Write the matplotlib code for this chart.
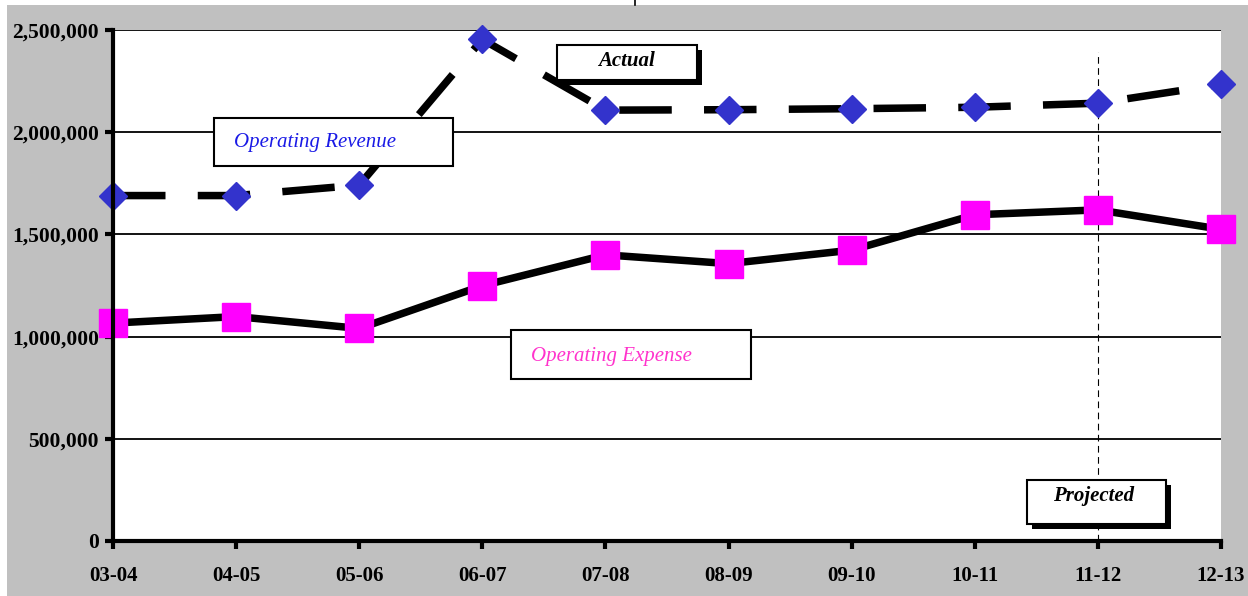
import matplotlib
matplotlib.use("Agg")
import matplotlib.pyplot as plt
from matplotlib.patches import Rectangle
from matplotlib.lines import Line2D
from matplotlib.ticker import FuncFormatter

# Fiscal years and series values
years = ["03-04", "04-05", "05-06", "06-07", "07-08", "08-09", "09-10", "10-11", "11-12", "12-13"]
revenue = [1690000, 1690000, 1741000, 2454000, 2108000, 2110000, 2115000, 2122000, 2142000, 2234000]
expense = [1066000, 1098000, 1040000, 1249000, 1400000, 1357000, 1423000, 1596000, 1620000, 1525000]
y_ticks = [0, 500000, 1000000, 1500000, 2000000, 2500000]
projected_from = "11-12"

W, H = 1248, 596
DPI = 100
fig = plt.figure(figsize=(W / DPI, H / DPI), dpi=DPI, facecolor="white")

# grey chart-area backdrop
fig.add_artist(Rectangle((7 / W, 0), 1 - 7 / W, (H - 5) / H, transform=fig.transFigure,
                         facecolor="#C0C0C0", edgecolor="none", zorder=0))
fig.add_artist(Line2D([635 / W, 635 / W], [(H - 5) / H, 1.0], transform=fig.transFigure,
                      color="black", lw=1.2, zorder=1))

def px_box(x0, y0, x1, y1):
    return [x0 / W, (H - y1) / H, (x1 - x0) / W, (y1 - y0) / H]

ax = fig.add_axes(px_box(113, 30, 1221, 541))
ax.set_facecolor("white")
ax.set_zorder(2)

x = list(range(len(years)))
ax.set_xlim(0, len(years) - 1)
ax.set_ylim(0, 2500000)

for v in y_ticks[1:]:
    ax.axhline(v, color="black", lw=1.3, zorder=1)

# projection divider
px = years.index(projected_from)
ax.axvline(px, ymin=0, ymax=(541 - 52) / (541 - 30), color="black", lw=0.8,
           dashes=(6, 4), zorder=2)

ax.plot(x, revenue, color="black", lw=5.4, dashes=(7.0, 4.3), dash_capstyle="butt",
        zorder=3, clip_on=False)
ax.plot(x, revenue, ls="none", marker="D", markersize=14, color="#3333CC",
        markeredgecolor="#3333CC", zorder=5, clip_on=False)

ax.plot(x, expense, color="black", lw=5.4, solid_capstyle="butt", zorder=3, clip_on=False)
ax.plot(x, expense, ls="none", marker="s", markersize=20, color="#FF00FF",
        markeredgecolor="#FF00FF", zorder=5, clip_on=False)

for side in ("top", "right"):
    ax.spines[side].set_visible(False)
for side in ("left", "bottom"):
    ax.spines[side].set_linewidth(3.0)
    ax.spines[side].set_color("black")
    ax.spines[side].set_zorder(6)

ax.set_xticks(x)
ax.set_xticklabels(years)
ax.set_yticks(y_ticks)
ax.yaxis.set_major_formatter(FuncFormatter(lambda v, p: f"{int(v):,}"))
ax.tick_params(axis="both", direction="out", length=6, width=3, color="black")
ax.tick_params(axis="y", pad=4)
ax.tick_params(axis="x", pad=12)
for lab in ax.get_xticklabels():
    lab.set_fontfamily("Liberation Serif")
    lab.set_fontweight("bold")
    lab.set_fontsize(15)
for lab in ax.get_yticklabels():
    lab.set_fontfamily("Liberation Serif")
    lab.set_fontweight("bold")
    lab.set_fontsize(15.5)

# annotation boxes drawn in figure pixel space
ov = fig.add_axes([0, 0, 1, 1])
ov.set_xlim(0, W)
ov.set_ylim(H, 0)
ov.axis("off")
ov.set_zorder(10)
ov.patch.set_visible(False)

def label_box(x0, y0, x1, y1, shadow=False):
    if shadow:
        ov.add_patch(Rectangle((x0 + 5, y0 + 5), x1 - x0, y1 - y0,
                               facecolor="black", edgecolor="none"))
    ov.add_patch(Rectangle((x0, y0), x1 - x0, y1 - y0, facecolor="white",
                           edgecolor="black", lw=1.5))

label_box(557, 45, 697, 80, shadow=True)
ov.text(626, 61, "Actual", ha="center", va="center", family="Liberation Serif",
        style="italic", weight="bold", fontsize=15, color="black")

label_box(1027, 480, 1166, 524, shadow=True)
ov.text(1094, 496, "Projected", ha="center", va="center", family="Liberation Serif",
        style="italic", weight="bold", fontsize=15, color="black")

label_box(214, 118, 453, 166)
ov.text(234, 143, "Operating Revenue", ha="left", va="center", family="Liberation Serif",
        style="italic", fontsize=15, color="#1A1AE6")

label_box(511, 330, 751, 379)
ov.text(531, 356, "Operating Expense", ha="left", va="center", family="Liberation Serif",
        style="italic", fontsize=15, color="#FF33CC")

fig.savefig("out.png", dpi=DPI, facecolor="white")
